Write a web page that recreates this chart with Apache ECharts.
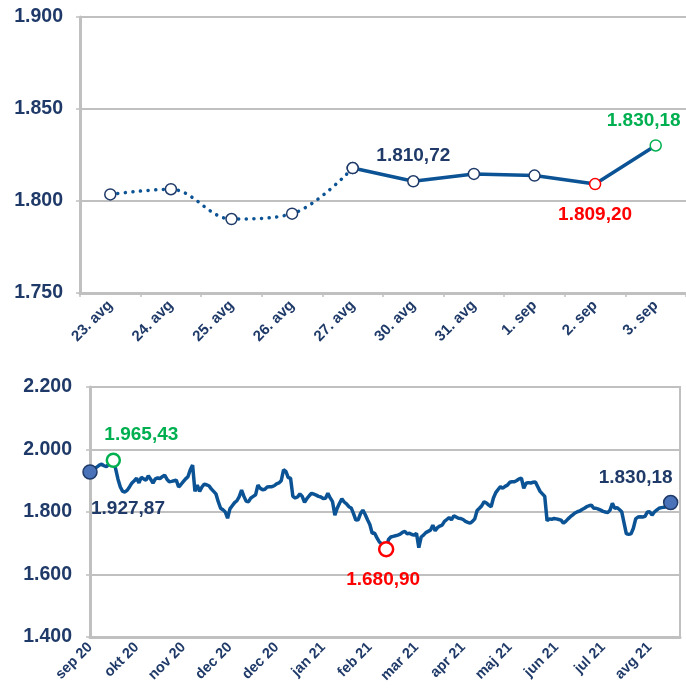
<!DOCTYPE html>
<html>
<head>
<meta charset="utf-8">
<script src="https://cdn.jsdelivr.net/npm/echarts@6/dist/echarts.min.js"></script>
<style>
  html, body { margin: 0; padding: 0; background: #fff; }
  #chart-container { width: 686px; height: 694px; }
</style>
</head>
<body>
<div id="chart-container"></div>
<script>
var dom = document.getElementById('chart-container');
var myChart = echarts.init(dom, null, { renderer: 'canvas' });

// zadnjih 10 dni
var dayLabels = ['23. avg', '24. avg', '25. avg', '26. avg', '27. avg', '30. avg', '31. avg', '1. sep', '2. sep', '3. sep'];
var dayValues = [1803.6, 1806.4, 1790.2, 1793.1, 1817.9, 1810.72, 1814.7, 1813.8, 1809.20, 1830.18];

// zadnje leto (dnevno)
var monthLabels = ['sep 20', 'okt 20', 'nov 20', 'dec 20', 'dec 20', 'jan 21', 'feb 21', 'mar 21', 'apr 21', 'maj 21', 'jun 21', 'jul 21', 'avg 21'];
var yearValues = [
  1927.87, 1935, 1940, 1944, 1950, 1953, 1948, 1945, 1952, 1958,
  1965.43, 1938, 1905, 1880, 1866, 1864, 1870, 1881, 1893, 1900,
  1908, 1893, 1911, 1906, 1902, 1916, 1905, 1892, 1906, 1909,
  1907, 1913, 1918, 1905, 1897, 1898, 1900, 1902, 1880, 1888,
  1897, 1906, 1913, 1935, 1950, 1866, 1886, 1866, 1880, 1889,
  1887, 1884, 1874, 1866, 1858, 1833, 1812, 1807, 1800, 1780,
  1810, 1820, 1830, 1836, 1849, 1870, 1850, 1834, 1833, 1845,
  1850, 1855, 1886, 1876, 1871, 1873, 1880, 1881, 1881, 1884,
  1890, 1893, 1900, 1935, 1930, 1910, 1908, 1850, 1845, 1848,
  1858, 1850, 1831, 1843, 1852, 1860, 1857, 1854, 1850, 1848,
  1843, 1844, 1860, 1845, 1833, 1790, 1812, 1828, 1842, 1832,
  1826, 1817, 1813, 1795, 1774, 1775, 1795, 1806, 1792, 1775,
  1760, 1732, 1733, 1718, 1705, 1698, 1690, 1680.90, 1712, 1720,
  1722, 1724, 1726, 1729, 1735, 1738, 1730, 1732, 1728, 1726,
  1732, 1686, 1720, 1726, 1734, 1738, 1742, 1758, 1740, 1750,
  1755, 1758, 1770, 1776, 1782, 1775, 1788, 1784, 1780, 1779,
  1776, 1770, 1767, 1764, 1770, 1778, 1805, 1812, 1820, 1833,
  1829, 1822, 1817, 1845, 1862, 1872, 1881, 1876, 1882, 1886,
  1895, 1897, 1897, 1901, 1906, 1908, 1876, 1892, 1894, 1893,
  1895, 1896, 1881, 1866, 1858, 1850, 1772, 1778, 1777, 1779,
  1778, 1776, 1774, 1764, 1770, 1778, 1785, 1791, 1797, 1801,
  1803, 1808, 1812, 1817, 1820, 1822, 1812, 1812, 1809, 1806,
  1802, 1800, 1798, 1806, 1828, 1812, 1814, 1808, 1801, 1765,
  1730, 1729, 1730, 1748, 1778, 1784, 1785, 1784, 1786, 1800,
  1801, 1790, 1800, 1806, 1812, 1814, 1815, 1817, 1824, 1830.18
];

var NAVY = '#1F3A68';
var LINE = '#0B5394';
var GREEN = '#00B050';
var RED = '#FF0000';
var GREY = '#C0C0C0';
var FONT = '"Liberation Sans", Arial, sans-serif';

function sl(v) {
  var p = v.toFixed(2).split('.');
  return p[0].replace(/\B(?=(\d{3})+(?!\d))/g, '.') + ',' + p[1];
}
function axisNum(v) {
  return (v / 1000).toFixed(3);
}

// zgornji graf: pikcasto do 27. avg, nato polna crta
var dotted = dayValues.map(function (v, i) { return i <= 4 ? v : null; });
var solid = dayValues.map(function (v, i) {
  if (i < 4) return null;
  var item = { value: v };
  if (i === 5) {
    item.label = { show: true, position: 'top', offset: [0, -5], color: NAVY };
  }
  if (i === 8) {
    item.itemStyle = { borderColor: RED };
    item.label = { show: true, position: 'bottom', offset: [0, 10], color: RED };
  }
  if (i === 9) {
    item.itemStyle = { borderColor: GREEN };
    item.label = { show: true, position: 'top', offset: [-12, -4], color: GREEN };
  }
  return item;
});

// spodnji graf: oznacene tocke
var lastIdx = yearValues.length - 1;
var maxIdx = yearValues.indexOf(Math.max.apply(null, yearValues));
var minIdx = yearValues.indexOf(Math.min.apply(null, yearValues));
var yearLine = yearValues.map(function (v, i) { return [i, v]; });
var marks = [
  { value: [0, yearValues[0]], symbolSize: 14,
    itemStyle: { color: '#4A72B8', borderColor: NAVY, borderWidth: 1.5 },
    label: { position: 'bottom', offset: [38, 14], color: NAVY } },
  { value: [maxIdx, yearValues[maxIdx]], symbolSize: 13,
    itemStyle: { color: '#fff', borderColor: GREEN, borderWidth: 2.5 },
    label: { position: 'top', offset: [28, -3], color: GREEN } },
  { value: [minIdx, yearValues[minIdx]], symbolSize: 14,
    itemStyle: { color: '#fff', borderColor: RED, borderWidth: 2.5 },
    label: { position: 'bottom', offset: [-3, 8], color: RED } },
  { value: [lastIdx, yearValues[lastIdx]], symbolSize: 14,
    itemStyle: { color: '#4A72B8', borderColor: NAVY, borderWidth: 1.5 },
    label: { position: 'top', offset: [-35, -3], color: NAVY } }
];

var labelFont = { fontFamily: FONT, fontWeight: 'bold', fontSize: 19 };

var option = {
  animation: false,
  textStyle: { fontFamily: FONT },
  grid: [
    { left: 80, top: 17, right: -2, height: 276 },
    { left: 90, top: 387, right: 6, height: 250, show: true, borderColor: GREY, borderWidth: 2 }
  ],
  xAxis: [
    {
      gridIndex: 0,
      type: 'category',
      data: dayLabels,
      boundaryGap: true,
      axisLine: { lineStyle: { color: GREY, width: 3 } },
      axisTick: { show: true, length: 4, lineStyle: { color: GREY, width: 1.5 } },
      axisLabel: { rotate: 45, color: NAVY, fontWeight: 'bold', fontSize: 15, margin: 10, fontFamily: FONT }
    },
    {
      gridIndex: 1,
      type: 'value',
      min: 0,
      max: 253,
      interval: 20,
      splitLine: { show: false },
      axisLine: { lineStyle: { color: GREY, width: 3 } },
      axisTick: { show: false },
      axisLabel: {
        rotate: 45, color: NAVY, fontWeight: 'bold', fontSize: 14.5, margin: 8, fontFamily: FONT,
        showMaxLabel: false,
        formatter: function (v) { return monthLabels[v / 20] || ''; }
      }
    }
  ],
  yAxis: [
    {
      gridIndex: 0,
      type: 'value',
      min: 1750,
      max: 1900,
      interval: 50,
      axisLine: { show: true, lineStyle: { color: GREY, width: 3 } },
      axisTick: { show: true, length: 4, lineStyle: { color: GREY, width: 1.5 } },
      splitLine: { lineStyle: { color: GREY, width: 2 } },
      axisLabel: { color: NAVY, fontWeight: 'bold', fontSize: 19.5, margin: 17, formatter: axisNum, fontFamily: FONT }
    },
    {
      gridIndex: 1,
      type: 'value',
      min: 1400,
      max: 2200,
      interval: 200,
      axisLine: { show: true, lineStyle: { color: GREY, width: 3 } },
      axisTick: { show: true, length: 4, lineStyle: { color: GREY, width: 1.5 } },
      splitLine: { lineStyle: { color: GREY, width: 2 } },
      axisLabel: { color: NAVY, fontWeight: 'bold', fontSize: 19.5, margin: 18, formatter: axisNum, fontFamily: FONT }
    }
  ],
  series: [
    {
      type: 'line',
      xAxisIndex: 0, yAxisIndex: 0,
      data: dotted,
      smooth: 0.35,
      symbol: 'circle',
      symbolSize: 11,
      itemStyle: { color: '#fff', borderColor: NAVY, borderWidth: 1.5 },
      lineStyle: { color: LINE, width: 3.5, type: [0.1, 7.5], cap: 'round' },
      z: 2
    },
    {
      type: 'line',
      xAxisIndex: 0, yAxisIndex: 0,
      data: solid,
      symbol: 'circle',
      symbolSize: 11,
      itemStyle: { color: '#fff', borderColor: NAVY, borderWidth: 1.5 },
      lineStyle: { color: LINE, width: 3.5 },
      label: Object.assign({ show: false, formatter: function (p) { return sl(p.value); } }, labelFont),
      z: 3
    },
    {
      type: 'line',
      xAxisIndex: 1, yAxisIndex: 1,
      data: yearLine,
      showSymbol: false,
      lineStyle: { color: LINE, width: 3.5 },
      z: 2
    },
    {
      type: 'scatter',
      xAxisIndex: 1, yAxisIndex: 1,
      data: marks,
      itemStyle: { opacity: 1 },
      label: Object.assign({ show: true, opacity: 1, formatter: function (p) { return sl(p.value[1]); } }, labelFont),
      z: 4
    }
  ]
};

myChart.setOption(option);
window.addEventListener('resize', myChart.resize);
</script>
</body>
</html>
